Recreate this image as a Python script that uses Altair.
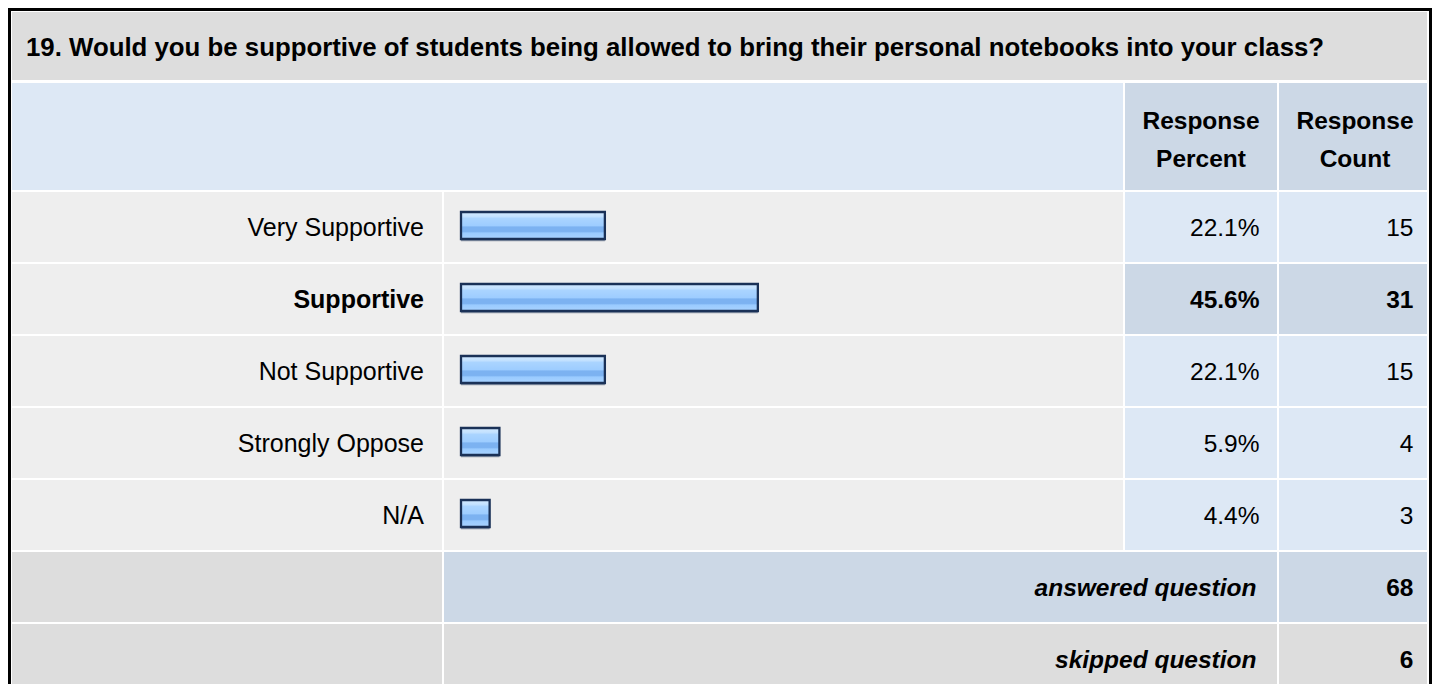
import altair as alt
import pandas as pd

# ---------------- data ----------------
question = "19. Would you be supportive of students being allowed to bring their personal notebooks into your class?"
categories = ["Very Supportive", "Supportive", "Not Supportive", "Strongly Oppose", "N/A"]
percents = [22.1, 45.6, 22.1, 5.9, 4.4]
counts = [15, 31, 15, 4, 3]
header_percent = ["Response", "Percent"]
header_count = ["Response", "Count"]
summary_labels = ["answered question", "skipped question"]
summary_counts = [68, 6]

# ---------------- layout (chart pixels) ----------------
W, H = 1424, 676
FONT = "Liberation Sans"
FS = 24.5
FS_LABEL = 25
FS_TITLE = 25.8

COL_LABEL = (4, 434)
COL_BAR = (436, 1115)
COL_PCT = (1117, 1269)
COL_CNT = (1271, 1419)
BORDER_R = (1421, 1424)
TITLE_ROW = (4, 72)
HEADER_ROW = (75, 182)
BODY_RANGE = [183, 687]
ROW_STEP, ROW_GAP = 72, 2
TEXT_DY = 8.5

C_TITLE = "#dddddd"
C_HEAD_L = "#dde8f5"
C_HEAD_D = "#ccd8e6"
C_ROW = "#eeeeee"
C_CELL = "#dde8f5"
C_CELL_HI = "#ccd8e6"
C_SUM = "#dddddd"
C_TEXT = "#000000"
C_BAR_STROKE = "#1a3157"

px_x = alt.Scale(domain=[0, W], range=[0, W], zero=False, nice=False)
px_y = alt.Scale(domain=[0, H], range=[0, H], zero=False, nice=False)
rows = categories + summary_labels
band_y = alt.Scale(domain=rows, range=BODY_RANGE,
                   paddingInner=ROW_GAP / ROW_STEP,
                   paddingOuter=(ROW_GAP / 2) / ROW_STEP)
bar_x = alt.Scale(domain=[0, 100], range=[COL_BAR[0] + 17, COL_BAR[0] + 17 + 651],
                  zero=True, nice=False)

hi_count = max(counts)

# ---------------- frame (border, title, header) ----------------
frame_df = pd.DataFrame([
    dict(x=0, x2=BORDER_R[1], y=0, y2=H + 40, c="#000000"),
    dict(x=3, x2=BORDER_R[0], y=3, y2=H + 40, c="#ffffff"),
    dict(x=COL_LABEL[0], x2=COL_CNT[1], y=TITLE_ROW[0], y2=TITLE_ROW[1], c=C_TITLE),
    dict(x=COL_LABEL[0], x2=COL_BAR[1], y=HEADER_ROW[0], y2=HEADER_ROW[1], c=C_HEAD_L),
    dict(x=COL_PCT[0], x2=COL_PCT[1], y=HEADER_ROW[0], y2=HEADER_ROW[1], c=C_HEAD_D),
    dict(x=COL_CNT[0], x2=COL_CNT[1], y=HEADER_ROW[0], y2=HEADER_ROW[1], c=C_HEAD_D),
])
frame = alt.Chart(frame_df).mark_rect().encode(
    x=alt.X("x:Q", scale=px_x, axis=None), x2="x2:Q",
    y=alt.Y("y:Q", scale=px_y, axis=None), y2="y2:Q",
    color=alt.Color("c:N", scale=None, legend=None),
)

# ---------------- body cells ----------------
cells = []
for cat, cnt in zip(categories, counts):
    vc = C_CELL_HI if cnt == hi_count else C_CELL
    cells += [
        dict(row=cat, x=COL_LABEL[0], x2=COL_LABEL[1], c=C_ROW),
        dict(row=cat, x=COL_BAR[0], x2=COL_BAR[1], c=C_ROW),
        dict(row=cat, x=COL_PCT[0], x2=COL_PCT[1], c=vc),
        dict(row=cat, x=COL_CNT[0], x2=COL_CNT[1], c=vc),
    ]
cells += [
    dict(row=summary_labels[0], x=COL_LABEL[0], x2=COL_LABEL[1], c=C_SUM),
    dict(row=summary_labels[0], x=COL_BAR[0], x2=COL_PCT[1], c=C_HEAD_D),
    dict(row=summary_labels[0], x=COL_CNT[0], x2=COL_CNT[1], c=C_HEAD_D),
    dict(row=summary_labels[1], x=COL_LABEL[0], x2=COL_LABEL[1], c=C_SUM),
    dict(row=summary_labels[1], x=COL_BAR[0], x2=COL_PCT[1], c=C_SUM),
    dict(row=summary_labels[1], x=COL_CNT[0], x2=COL_CNT[1], c=C_SUM),
]
cells_df = pd.DataFrame(cells)
body = alt.Chart(cells_df).mark_rect().encode(
    x=alt.X("x:Q", scale=px_x, axis=None), x2="x2:Q",
    y=alt.Y("row:N", scale=band_y, axis=None),
    color=alt.Color("c:N", scale=None, legend=None),
)

# ---------------- bars ----------------
data_df = pd.DataFrame(dict(row=categories, pct=percents, count=counts))
data_df["hi"] = data_df["count"] == hi_count

grad = alt.LinearGradient(
    gradient="linear", x1=0, y1=0, x2=0, y2=1,
    stops=[
        alt.GradientStop(color="#d2e9ff", offset=0),
        alt.GradientStop(color="#c4e2ff", offset=0.16),
        alt.GradientStop(color="#aad4ff", offset=0.24),
        alt.GradientStop(color="#9ecdff", offset=0.5),
        alt.GradientStop(color="#7cb2f1", offset=0.56),
        alt.GradientStop(color="#7cb2f1", offset=0.72),
        alt.GradientStop(color="#9acbff", offset=0.78),
        alt.GradientStop(color="#a9d3ff", offset=1),
    ],
)

shadow = alt.Chart(data_df).mark_bar(size=27, yOffset=0.8, fill="#8e98a8").encode(
    x=alt.X("pct:Q", scale=bar_x, axis=None),
    y=alt.Y("row:N", scale=band_y, axis=None),
)
bars = alt.Chart(data_df).mark_bar(
    size=27, yOffset=-1.5, fill=grad, stroke=C_BAR_STROKE, strokeWidth=2.3,
).encode(
    x=alt.X("pct:Q", scale=bar_x, axis=None),
    y=alt.Y("row:N", scale=band_y, axis=None),
)

# ---------------- texts ----------------
def body_text(df, field, x_right, bold, size=FS, italic=False, filt=None):
    ch = alt.Chart(df)
    if filt is not None:
        ch = ch.transform_filter(filt)
    return ch.mark_text(
        align="right", baseline="alphabetic", dy=TEXT_DY, font=FONT, fontSize=size,
        fontWeight="bold" if bold else "normal",
        fontStyle="italic" if italic else "normal", color=C_TEXT,
    ).encode(
        x=alt.value(x_right),
        y=alt.Y("row:N", scale=band_y, axis=None, bandPosition=0.5),
        text=f"{field}:N",
    )

tdf = data_df.copy()
tdf["label"] = tdf["row"]
tdf["ptxt"] = [f"{p:.1f}%" for p in tdf["pct"]]
tdf["ctxt"] = [str(c) for c in tdf["count"]]

label_x = COL_LABEL[1] - 18
pct_x = COL_PCT[1] - 17.5
cnt_x = 1405.5

texts = []
for fld, xr, fs in [("label", label_x, FS_LABEL), ("ptxt", pct_x, FS), ("ctxt", cnt_x, FS)]:
    texts.append(body_text(tdf, fld, xr, False, size=fs, filt="!datum.hi"))
    texts.append(body_text(tdf, fld, xr, True, size=fs, filt="datum.hi"))

sdf = pd.DataFrame(dict(row=summary_labels, label=summary_labels,
                        ctxt=[str(c) for c in summary_counts]))
texts.append(body_text(sdf, "label", pct_x - 3, True, italic=True))
texts.append(body_text(sdf, "ctxt", cnt_x, True))

pct_center = (COL_PCT[0] + COL_PCT[1]) / 2
cnt_center = 1347
hdr_df = pd.DataFrame([
    dict(t=header_percent[0], x=pct_center, y=120.5),
    dict(t=header_percent[1], x=pct_center, y=158.5),
    dict(t=header_count[0], x=cnt_center, y=120.5),
    dict(t=header_count[1], x=cnt_center, y=158.5),
])
header = alt.Chart(hdr_df).mark_text(
    align="center", baseline="alphabetic", font=FONT, fontSize=FS,
    fontWeight="bold", color=C_TEXT,
).encode(
    x=alt.X("x:Q", scale=px_x, axis=None),
    y=alt.Y("y:Q", scale=px_y, axis=None),
    text="t:N",
)

title_df = pd.DataFrame([dict(t=question, x=18, y=48)])
title = alt.Chart(title_df).mark_text(
    align="left", baseline="alphabetic", font=FONT, fontSize=FS_TITLE,
    fontWeight="bold", color=C_TEXT,
).encode(
    x=alt.X("x:Q", scale=px_x, axis=None),
    y=alt.Y("y:Q", scale=px_y, axis=None),
    text="t:N",
)

chart = alt.layer(frame, body, shadow, bars, header, title, *texts).resolve_scale(
    x="independent", y="independent"
).properties(
    width=W, height=H, padding=0, background="white",
    autosize=alt.AutoSizeParams(type="none"),
).configure_view(stroke=None)

chart.save("out.html", embed_options={"renderer": "svg", "actions": False})
